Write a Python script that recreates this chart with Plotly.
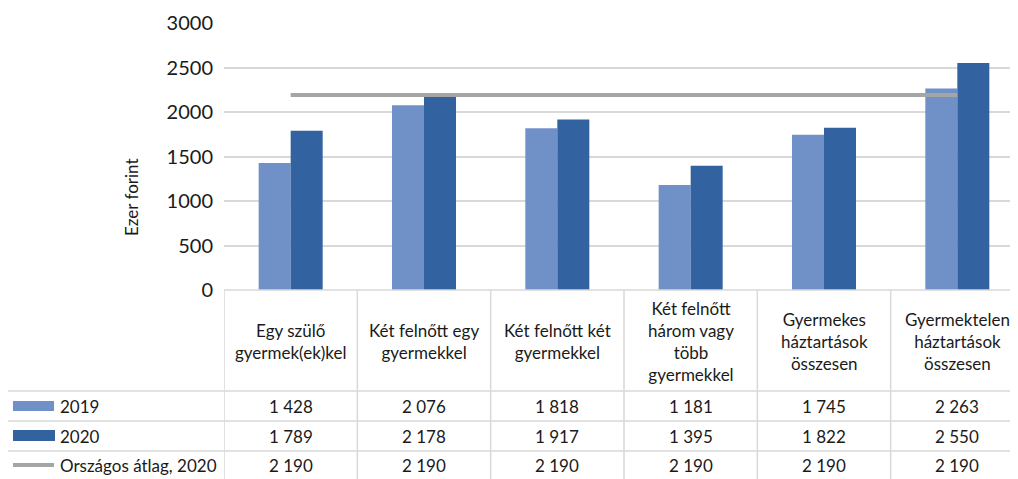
import plotly.graph_objects as go

categories = [
    "Egy szülő<br>gyermek(ek)kel",
    "Két felnőtt egy<br>gyermekkel",
    "Két felnőtt két<br>gyermekkel",
    "Két felnőtt<br>három vagy<br>több<br>gyermekkel",
    "Gyermekes<br>háztartások<br>összesen",
    "Gyermektelen<br>háztartások<br>összesen",
]
values_2019 = [1428, 2076, 1818, 1181, 1745, 2263]
values_2020 = [1789, 2178, 1917, 1395, 1822, 2550]
national_avg_2020 = [2190, 2190, 2190, 2190, 2190, 2190]
series_names = ["2019", "2020", "Országos átlag, 2020"]
y_ticks = [0, 500, 1000, 1500, 2000, 2500, 3000]

C2019 = "#7090C8"
C2020 = "#3262A0"
CAVG = "#A5A5A5"
GRID = "#D9D9D9"
TXT = "#1a1a1a"
FONT = "Lato"

OFF = 8  # page body margin
W, H = 1018 - OFF, 479 - OFF
ML, MR, MT = 224 - OFF, 0, 23 - OFF
MB = H - (290 - OFF)
PW = W - ML - MR
PH = H - MT - MB


def px(x):
    return (x - OFF - ML) / PW


def py(y):
    return (290 - y) / PH


x = list(range(len(categories)))
fig = go.Figure()
fig.add_trace(go.Bar(x=x, y=values_2019, name=series_names[0], marker=dict(color=C2019, line=dict(width=0))))
fig.add_trace(go.Bar(x=x, y=values_2020, name=series_names[1], marker=dict(color=C2020, line=dict(width=0))))
fig.add_trace(go.Scatter(x=x, y=national_avg_2020, name=series_names[2], mode="lines",
                         line=dict(color=CAVG, width=4)))

shapes = []
ann = []

# table horizontal lines
shapes.append(dict(type="line", xref="paper", yref="paper", x0=0, x1=1, y0=py(290), y1=py(290),
                   line=dict(color=GRID, width=1.5)))
for yy in [391, 421, 451]:
    shapes.append(dict(type="line", xref="paper", yref="paper", x0=px(7), x1=1, y0=py(yy), y1=py(yy),
                       line=dict(color=GRID, width=1.5)))
# vertical lines
shapes.append(dict(type="line", xref="paper", yref="paper", x0=px(7), x1=px(7), y0=py(391), y1=py(482),
                   line=dict(color=GRID, width=1.5)))
for i in range(len(categories)):
    shapes.append(dict(type="line", xref="x", yref="paper", x0=i - 0.5, x1=i - 0.5, y0=py(290), y1=py(482),
                       line=dict(color=GRID, width=1.5)))

# legend keys in table
shapes.append(dict(type="rect", xref="paper", yref="paper", x0=px(13), x1=px(54), y0=py(401), y1=py(411),
                   fillcolor=C2019, line=dict(width=0)))
shapes.append(dict(type="rect", xref="paper", yref="paper", x0=px(13), x1=px(55), y0=py(430), y1=py(441),
                   fillcolor=C2020, line=dict(width=0)))
shapes.append(dict(type="line", xref="paper", yref="paper", x0=px(13), x1=px(54), y0=py(465), y1=py(465),
                   line=dict(color=CAVG, width=4)))

row_y = [406, 436, 465]
for name, yy in zip(series_names, row_y):
    ann.append(dict(text=name, xref="paper", yref="paper", x=px(58), y=py(yy), xanchor="left",
                    yanchor="middle", showarrow=False, font=dict(size=17, color=TXT, family=FONT)))


def fmt(v):
    return f"{v:,}".replace(",", " ")


for i, cat in enumerate(categories):
    ann.append(dict(text=cat, xref="x", yref="paper", x=i, y=py(341), xanchor="center", yanchor="middle",
                    showarrow=False, font=dict(size=17, color=TXT, family=FONT)))
    for vals, yy in zip([values_2019, values_2020, national_avg_2020], row_y):
        ann.append(dict(text=fmt(vals[i]), xref="x", yref="paper", x=i, y=py(yy), xanchor="center",
                        yanchor="middle", showarrow=False, font=dict(size=17, color=TXT, family=FONT)))

ann.append(dict(text="Ezer forint", xref="paper", yref="paper", x=px(131), y=py(197), textangle=-90,
                xanchor="center", yanchor="middle", showarrow=False,
                font=dict(size=17, color=TXT, family=FONT)))

fig.update_layout(
    width=W, height=H,
    margin=dict(l=ML, r=MR, t=MT, b=MB),
    paper_bgcolor="white", plot_bgcolor="white",
    barmode="group", bargap=0.52, bargroupgap=0,
    showlegend=False,
    font=dict(family=FONT, color=TXT),
    xaxis=dict(range=[-0.5, -0.5 + PW / (800 / 6)], showticklabels=False, showgrid=False,
               zeroline=False, showline=False, fixedrange=True),
    yaxis=dict(range=[0, 3000], tickvals=y_ticks, showgrid=True, gridcolor=GRID, gridwidth=1.5,
               zeroline=False, showline=False, tickfont=dict(size=20, color=TXT, family=FONT),
               ticklabelstandoff=10),
    shapes=shapes,
    annotations=ann,
)

fig.write_html("out.html")
